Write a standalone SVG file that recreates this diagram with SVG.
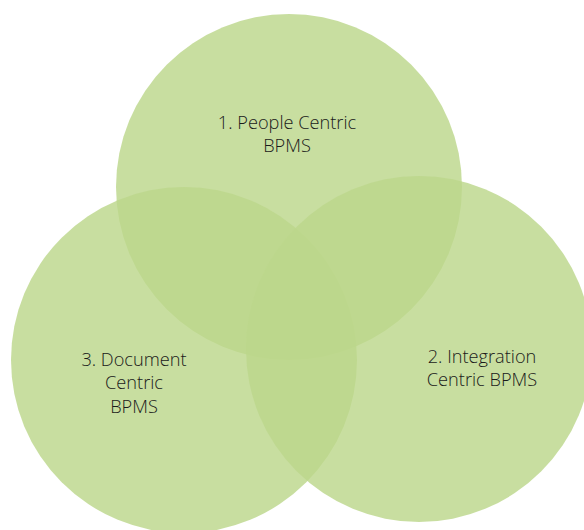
<svg xmlns="http://www.w3.org/2000/svg" width="584" height="530" viewBox="0 0 584 530">
  <style>
    .set { fill: #BCD78B; fill-opacity: 0.82; }
    .label { font-family: "Open Sans", "Liberation Sans", sans-serif; font-size: 18.2px; font-weight: 300; fill: #1a1a1a; text-anchor: middle; }
  </style>
  <rect width="584" height="530" fill="#ffffff"/>
  <g id="people-centric">
    <circle class="set" cx="289" cy="187" r="173"/>
  </g>
  <g id="document-centric">
    <circle class="set" cx="184" cy="360" r="173"/>
  </g>
  <g id="integration-centric">
    <circle class="set" cx="419" cy="349" r="173"/>
  </g>
  <g id="labels">
    <text class="label" x="287" y="129">1. People Centric</text>
    <text class="label" x="287" y="152">BPMS</text>
    <text class="label" x="134" y="366">3. Document</text>
    <text class="label" x="134" y="389">Centric</text>
    <text class="label" x="134" y="413">BPMS</text>
    <text class="label" x="482" y="363">2. Integration</text>
    <text class="label" x="482" y="386">Centric BPMS</text>
  </g>
  <g id="connectors"/>
</svg>
